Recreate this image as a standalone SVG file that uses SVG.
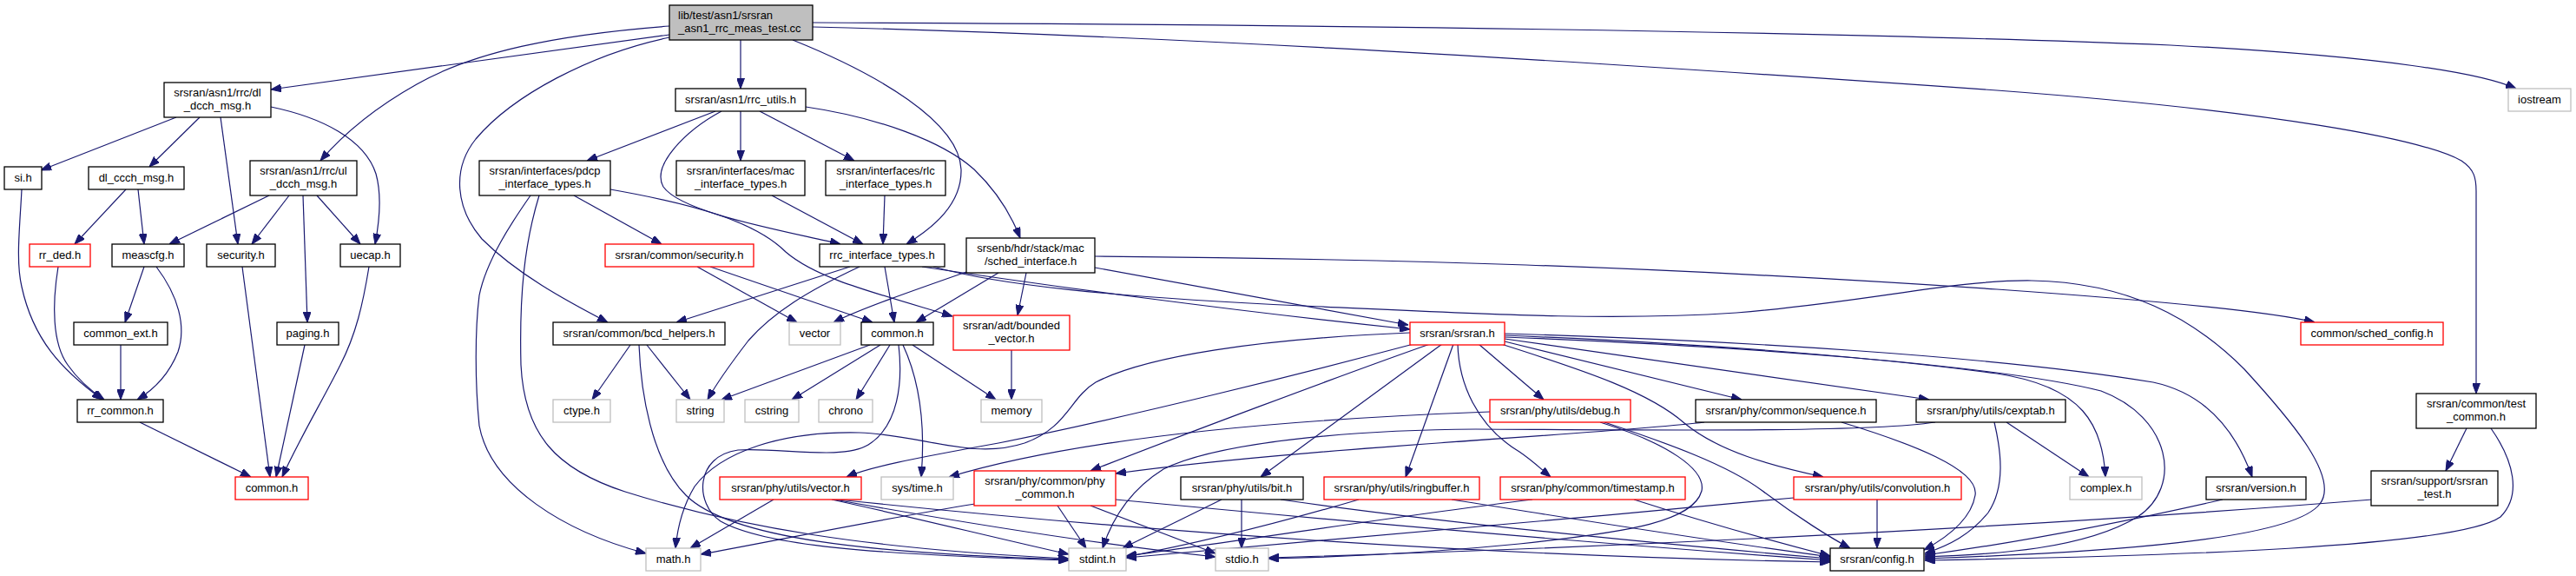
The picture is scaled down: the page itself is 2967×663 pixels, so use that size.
<svg xmlns="http://www.w3.org/2000/svg" width="2967" height="663" viewBox="0 0 2967 663">
<style>
.nd rect{fill:#fff;stroke:#000;stroke-width:1.3}
.nd.r rect{stroke:#f00}
.nd.g rect{stroke:#bfbfbf}
.nd.top rect{fill:#bfbfbf}
text{font-family:"Liberation Sans",Arial,sans-serif;font-size:13px;text-anchor:middle;fill:#000}
text.l{text-anchor:start}
#edges path{fill:none;stroke:#191970;stroke-width:1.2;marker-end:url(#a)}
</style>
<defs>
<marker id="a" viewBox="0 0 12 9" refX="12" refY="4.5" markerWidth="12" markerHeight="9" orient="auto" markerUnits="userSpaceOnUse"><path d="M0,0 L12,4.5 L0,9 Z" fill="#191970" stroke="#191970" stroke-width="1"/></marker>
</defs>
<rect width="2967" height="663" fill="#fff"/>
<g id="edges">
<path d="M771,40 C660,55 450,84 312,103"/>
<path d="M771,30 C640,40 545,60 480,97 C430,125 395,155 369,185"/>
<path d="M771,43 C680,62 590,110 548,160 C520,195 525,240 555,275 C595,315 650,345 700,371"/>
<path d="M853,46 L853,102"/>
<path d="M913,46 C1010,85 1105,140 1107,195 C1108,235 1075,262 1044,281"/>
<path d="M936,26 C1500,28 2100,36 2500,52 C2750,65 2860,85 2898,102"/>
<path d="M936,31 C1300,40 1700,62 2300,104 C2620,128 2790,160 2835,185 C2850,195 2852,205 2852,220 L2852,453"/>
<path d="M203,135 L47,196"/>
<path d="M230,135 L172,192"/>
<path d="M254,135 L274,281"/>
<path d="M312,123 C370,135 420,160 433,200 C440,225 437,255 432,281"/>
<path d="M310,225 L195,281"/>
<path d="M333,225 L290,281"/>
<path d="M349,225 L354,371"/>
<path d="M365,225 L415,281"/>
<path d="M25,218 C23,260 18,300 25,330 C38,390 70,425 118,460"/>
<path d="M145,218 L86,281"/>
<path d="M159,218 L166,281"/>
<path d="M67,307 C60,350 60,395 78,420 C92,440 108,452 120,460"/>
<path d="M166,307 L144,371"/>
<path d="M180,307 C205,340 215,375 205,405 C195,430 178,448 158,460"/>
<path d="M139,397 L139,460"/>
<path d="M161,486 L289,549"/>
<path d="M279,307 L311,549"/>
<path d="M351,397 L318,549"/>
<path d="M425,307 C418,350 410,385 392,420 C372,460 345,505 325,549"/>
<path d="M824,128 L676,185"/>
<path d="M853,128 L853,185"/>
<path d="M875,128 L984,185"/>
<path d="M831,128 C790,150 750,190 764,215 C785,245 900,265 968,281"/>
<path d="M928,123 C1010,135 1085,162 1122,195 C1148,220 1165,248 1175,274"/>
<path d="M889,225 L994,281"/>
<path d="M1019,225 L1017,281"/>
<path d="M661,225 L762,281"/>
<path d="M703,218 C800,235 870,255 905,290 C940,320 1000,335 1097,364"/>
<path d="M611,225 C590,255 560,300 552,340 C547,380 547,440 552,490 C565,560 650,612 744,637"/>
<path d="M621,225 C604,280 598,340 600,420 C604,500 640,540 720,566 C850,607 1000,632 1231,643"/>
<path d="M803,307 L918,371"/>
<path d="M818,307 L1005,371"/>
<path d="M979,307 L779,371"/>
<path d="M990,307 C930,335 890,360 862,392 C842,418 826,440 815,460"/>
<path d="M1019,307 L1030,371"/>
<path d="M1062,307 C1200,328 1420,358 1624,379"/>
<path d="M1075,307 C1150,328 1280,342 1500,352 C1700,361 1850,370 2000,360 C2150,348 2250,322 2340,323 C2450,325 2525,365 2585,425 C2640,485 2695,550 2672,580 C2640,622 2420,636 2217,643"/>
<path d="M1113,313 C1050,335 990,356 960,371"/>
<path d="M1150,314 L1055,371"/>
<path d="M1182,314 L1172,363"/>
<path d="M1261,308 L1622,374"/>
<path d="M1261,295 C1600,298 1900,306 2300,333 C2500,347 2620,360 2666,371"/>
<path d="M726,397 L682,460"/>
<path d="M745,397 L795,460"/>
<path d="M736,397 C738,450 750,530 790,570 C840,620 1000,637 1231,644"/>
<path d="M1002,397 L831,460"/>
<path d="M1014,397 L912,460"/>
<path d="M1025,397 L986,460"/>
<path d="M1051,397 L1147,460"/>
<path d="M1040,397 C1060,440 1066,490 1061,549"/>
<path d="M1035,397 C1040,440 1035,490 1000,512 C970,530 900,515 850,518 C800,525 800,580 830,600 C880,628 1000,638 1231,645"/>
<path d="M1165,403 L1165,460"/>
<path d="M1624,383 C1450,390 1320,410 1262,440 C1232,458 1230,492 1180,510 C1120,530 1060,500 990,498 C900,496 830,520 800,560 C785,585 780,610 778,631"/>
<path d="M1628,396 C1500,430 1300,480 1150,510 C1050,528 1000,538 975,549"/>
<path d="M1647,396 C1550,430 1350,505 1256,542"/>
<path d="M1661,396 L1452,549"/>
<path d="M1674,396 L1619,549"/>
<path d="M1679,396 C1680,440 1700,490 1750,520 C1765,530 1775,540 1786,549"/>
<path d="M1703,396 L1778,460"/>
<path d="M1729,396 C1830,428 1900,452 1940,487 C1980,520 2040,536 2100,549"/>
<path d="M1733,393 L2006,460"/>
<path d="M1733,390 L2222,460"/>
<path d="M1733,386 C1950,395 2150,410 2300,430 C2400,445 2422,490 2425,549"/>
<path d="M1733,384 C2000,392 2300,410 2480,440 C2550,455 2580,510 2594,549"/>
<path d="M1733,388 C2000,398 2300,420 2420,450 C2500,480 2515,560 2462,595 C2400,632 2300,638 2217,641"/>
<path d="M1716,474 C1500,482 1250,502 1093,549"/>
<path d="M1843,486 C1920,510 1965,540 1960,565 C1950,600 1880,612 1750,626 C1650,636 1550,641 1461,643"/>
<path d="M1848,486 C1920,510 1990,535 2030,565 C2070,595 2110,620 2131,631"/>
<path d="M1963,486 C1850,500 1500,515 1285,545"/>
<path d="M2121,486 C2200,510 2280,540 2275,570 C2270,600 2240,620 2216,633"/>
<path d="M2229,486 C2150,498 1900,495 1700,494 C1550,495 1400,510 1340,540 C1300,565 1280,600 1270,631"/>
<path d="M2311,486 L2406,549"/>
<path d="M2297,486 C2305,520 2310,560 2290,590 C2270,615 2245,628 2217,637"/>
<path d="M1765,575 C1600,595 1450,620 1297,640"/>
<path d="M1882,575 C1960,600 2050,625 2108,640"/>
<path d="M2066,573 C1800,598 1500,625 1297,642"/>
<path d="M2162,575 L2162,631"/>
<path d="M1565,575 C1480,600 1380,625 1297,641"/>
<path d="M1672,575 C1800,595 1950,620 2108,641"/>
<path d="M1407,575 L1293,631"/>
<path d="M1430,575 L1430,631"/>
<path d="M1475,575 C1650,600 1900,625 2108,643"/>
<path d="M1123,580 C1000,600 880,625 807,638"/>
<path d="M1218,582 L1251,631"/>
<path d="M1256,582 L1400,637"/>
<path d="M1285,575 C1600,605 1900,630 2108,645"/>
<path d="M891,575 L795,631"/>
<path d="M958,575 C1050,595 1150,620 1231,638"/>
<path d="M961,575 C1100,600 1250,625 1400,641"/>
<path d="M965,575 C1300,610 1700,640 2108,647"/>
<path d="M2560,575 C2450,600 2320,625 2217,639"/>
<path d="M2732,575 C2300,610 1800,632 1461,642"/>
<path d="M2841,493 L2817,542"/>
<path d="M2869,493 C2895,530 2905,570 2880,595 C2830,630 2500,640 2217,645"/>
</g>
<g id="n_top" class="nd top"><rect x="771" y="6" width="165" height="40"/><text class="l" x="781" y="22">lib/test/asn1/srsran</text><text class="l" x="781" y="37">_asn1_rrc_meas_test.cc</text></g>
<g id="n_rrc_utils" class="nd"><rect x="778" y="102" width="150" height="26"/><text x="853" y="119">srsran/asn1/rrc_utils.h</text></g>
<g id="n_iostream" class="nd g"><rect x="2889" y="102" width="72" height="26"/><text x="2925" y="119">iostream</text></g>
<g id="n_dl_dcch" class="nd"><rect x="189" y="95" width="123" height="40"/><text x="250.5" y="111">srsran/asn1/rrc/dl</text><text x="250.5" y="126">_dcch_msg.h</text></g>
<g id="n_ul_dcch" class="nd"><rect x="288" y="185" width="123" height="40"/><text x="349.5" y="201">srsran/asn1/rrc/ul</text><text x="349.5" y="216">_dcch_msg.h</text></g>
<g id="n_pdcp" class="nd"><rect x="552" y="185" width="151" height="40"/><text x="627.5" y="201">srsran/interfaces/pdcp</text><text x="627.5" y="216">_interface_types.h</text></g>
<g id="n_mac" class="nd"><rect x="779" y="185" width="148" height="40"/><text x="853" y="201">srsran/interfaces/mac</text><text x="853" y="216">_interface_types.h</text></g>
<g id="n_rlc" class="nd"><rect x="951" y="185" width="138" height="40"/><text x="1020" y="201">srsran/interfaces/rlc</text><text x="1020" y="216">_interface_types.h</text></g>
<g id="n_si" class="nd"><rect x="5" y="192" width="43" height="26"/><text x="26.5" y="209">si.h</text></g>
<g id="n_dl_ccch" class="nd"><rect x="102" y="192" width="110" height="26"/><text x="157" y="209">dl_ccch_msg.h</text></g>
<g id="n_rr_ded" class="nd r"><rect x="34" y="281" width="70" height="26"/><text x="69" y="298">rr_ded.h</text></g>
<g id="n_meascfg" class="nd"><rect x="129" y="281" width="83" height="26"/><text x="170.5" y="298">meascfg.h</text></g>
<g id="n_security" class="nd"><rect x="238" y="281" width="79" height="26"/><text x="277.5" y="298">security.h</text></g>
<g id="n_uecap" class="nd"><rect x="392" y="281" width="69" height="26"/><text x="426.5" y="298">uecap.h</text></g>
<g id="n_csec" class="nd r"><rect x="697" y="281" width="171" height="26"/><text x="782.5" y="298">srsran/common/security.h</text></g>
<g id="n_rrcif" class="nd"><rect x="944" y="281" width="144" height="26"/><text x="1016" y="298">rrc_interface_types.h</text></g>
<g id="n_sched" class="nd"><rect x="1113" y="274" width="148" height="40"/><text x="1187" y="290">srsenb/hdr/stack/mac</text><text x="1187" y="305">/sched_interface.h</text></g>
<g id="n_common_ext" class="nd"><rect x="85" y="371" width="108" height="26"/><text x="139" y="388">common_ext.h</text></g>
<g id="n_paging" class="nd"><rect x="319" y="371" width="71" height="26"/><text x="354.5" y="388">paging.h</text></g>
<g id="n_bcd" class="nd"><rect x="637" y="371" width="198" height="26"/><text x="736" y="388">srsran/common/bcd_helpers.h</text></g>
<g id="n_vector" class="nd g"><rect x="909" y="371" width="59" height="26"/><text x="938.5" y="388">vector</text></g>
<g id="n_commonb" class="nd"><rect x="992" y="371" width="83" height="26"/><text x="1033.5" y="388">common.h</text></g>
<g id="n_boundedv" class="nd r"><rect x="1098" y="363" width="134" height="40"/><text x="1165" y="379">srsran/adt/bounded</text><text x="1165" y="394">_vector.h</text></g>
<g id="n_srsran" class="nd r"><rect x="1624" y="371" width="109" height="26"/><text x="1678.5" y="388">srsran/srsran.h</text></g>
<g id="n_schedcfg" class="nd r"><rect x="2650" y="371" width="164" height="26"/><text x="2732" y="388">common/sched_config.h</text></g>
<g id="n_rr_common" class="nd"><rect x="89" y="460" width="99" height="26"/><text x="138.5" y="477">rr_common.h</text></g>
<g id="n_ctype" class="nd g"><rect x="637" y="460" width="66" height="26"/><text x="670" y="477">ctype.h</text></g>
<g id="n_string" class="nd g"><rect x="779" y="460" width="55" height="26"/><text x="806.5" y="477">string</text></g>
<g id="n_cstring" class="nd g"><rect x="858" y="460" width="62" height="26"/><text x="889" y="477">cstring</text></g>
<g id="n_chrono" class="nd g"><rect x="943" y="460" width="62" height="26"/><text x="974" y="477">chrono</text></g>
<g id="n_memory" class="nd g"><rect x="1130" y="460" width="70" height="26"/><text x="1165" y="477">memory</text></g>
<g id="n_debug" class="nd r"><rect x="1716" y="460" width="162" height="26"/><text x="1797" y="477">srsran/phy/utils/debug.h</text></g>
<g id="n_sequence" class="nd"><rect x="1953" y="460" width="208" height="26"/><text x="2057" y="477">srsran/phy/common/sequence.h</text></g>
<g id="n_cexptab" class="nd"><rect x="2207" y="460" width="172" height="26"/><text x="2293" y="477">srsran/phy/utils/cexptab.h</text></g>
<g id="n_testcommon" class="nd"><rect x="2783" y="453" width="138" height="40"/><text x="2852" y="469">srsran/common/test</text><text x="2852" y="484">_common.h</text></g>
<g id="n_commonr" class="nd r"><rect x="271" y="549" width="84" height="26"/><text x="313" y="566">common.h</text></g>
<g id="n_vectorh" class="nd r"><rect x="829" y="549" width="163" height="26"/><text x="910.5" y="566">srsran/phy/utils/vector.h</text></g>
<g id="n_systime" class="nd g"><rect x="1015" y="549" width="83" height="26"/><text x="1056.5" y="566">sys/time.h</text></g>
<g id="n_phycommon" class="nd r"><rect x="1122" y="542" width="163" height="40"/><text x="1203.5" y="558">srsran/phy/common/phy</text><text x="1203.5" y="573">_common.h</text></g>
<g id="n_bit" class="nd"><rect x="1360" y="549" width="141" height="26"/><text x="1430.5" y="566">srsran/phy/utils/bit.h</text></g>
<g id="n_ringbuffer" class="nd r"><rect x="1525" y="549" width="179" height="26"/><text x="1614.5" y="566">srsran/phy/utils/ringbuffer.h</text></g>
<g id="n_timestamp" class="nd r"><rect x="1728" y="549" width="213" height="26"/><text x="1834.5" y="566">srsran/phy/common/timestamp.h</text></g>
<g id="n_convolution" class="nd r"><rect x="2066" y="549" width="193" height="26"/><text x="2162.5" y="566">srsran/phy/utils/convolution.h</text></g>
<g id="n_complex" class="nd g"><rect x="2384" y="549" width="83" height="26"/><text x="2425.5" y="566">complex.h</text></g>
<g id="n_version" class="nd"><rect x="2541" y="549" width="115" height="26"/><text x="2598.5" y="566">srsran/version.h</text></g>
<g id="n_srsrantest" class="nd"><rect x="2731" y="542" width="146" height="40"/><text x="2804" y="558">srsran/support/srsran</text><text x="2804" y="573">_test.h</text></g>
<g id="n_math" class="nd g"><rect x="744" y="631" width="63" height="26"/><text x="775.5" y="648">math.h</text></g>
<g id="n_stdint" class="nd g"><rect x="1231" y="631" width="66" height="26"/><text x="1264" y="648">stdint.h</text></g>
<g id="n_stdio" class="nd g"><rect x="1400" y="631" width="61" height="26"/><text x="1430.5" y="648">stdio.h</text></g>
<g id="n_config" class="nd"><rect x="2108" y="631" width="108" height="26"/><text x="2162" y="648">srsran/config.h</text></g>
</svg>
